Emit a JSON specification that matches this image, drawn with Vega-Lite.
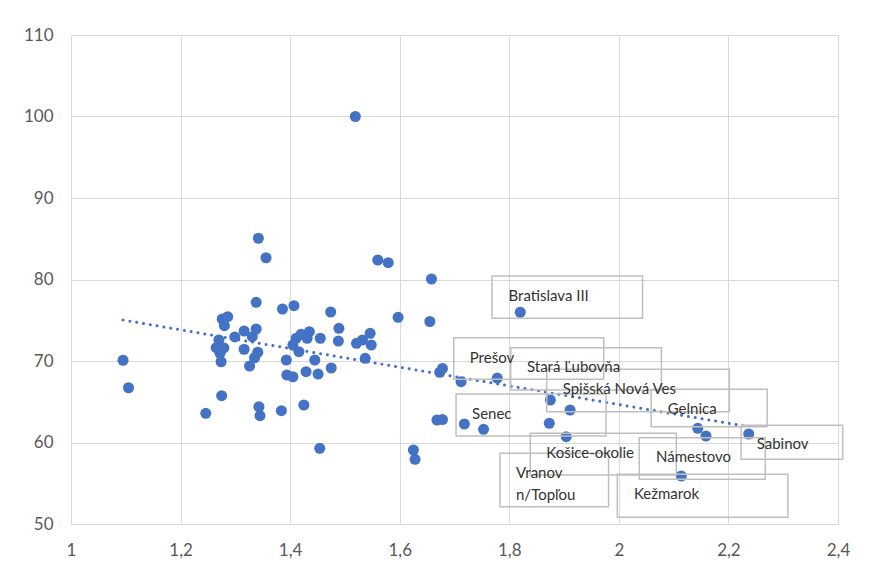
{
  "$schema": "https://vega.github.io/schema/vega-lite/v6.json",
  "width": 767,
  "height": 489,
  "autosize": {"type": "none"},
  "padding": {"left": 71, "top": 35, "right": 31, "bottom": 46},
  "background": "white",
  "config": {"view": {"stroke": null}, "font": "Lato"},
  "datasets": {
    "points": [
      {"x": 1.095, "y": 70.09}, {"x": 1.105, "y": 66.72}, {"x": 1.246, "y": 63.58}, {"x": 1.275, "y": 65.74},
      {"x": 1.342, "y": 85.06}, {"x": 1.356, "y": 82.67}, {"x": 1.338, "y": 77.2}, {"x": 1.386, "y": 76.38},
      {"x": 1.407, "y": 76.79}, {"x": 1.474, "y": 76.01}, {"x": 1.276, "y": 75.15}, {"x": 1.286, "y": 75.44},
      {"x": 1.28, "y": 74.33}, {"x": 1.489, "y": 74.01}, {"x": 1.488, "y": 72.45}, {"x": 1.338, "y": 73.93},
      {"x": 1.316, "y": 73.68}, {"x": 1.331, "y": 72.98}, {"x": 1.299, "y": 72.95}, {"x": 1.27, "y": 72.58},
      {"x": 1.265, "y": 71.63}, {"x": 1.279, "y": 71.6}, {"x": 1.272, "y": 70.94}, {"x": 1.316, "y": 71.44},
      {"x": 1.341, "y": 71.07}, {"x": 1.335, "y": 70.4}, {"x": 1.274, "y": 69.91}, {"x": 1.326, "y": 69.39},
      {"x": 1.393, "y": 70.12}, {"x": 1.405, "y": 71.96}, {"x": 1.411, "y": 72.79}, {"x": 1.42, "y": 73.28},
      {"x": 1.435, "y": 73.6}, {"x": 1.431, "y": 72.79}, {"x": 1.455, "y": 72.79}, {"x": 1.416, "y": 71.14},
      {"x": 1.445, "y": 70.12}, {"x": 1.394, "y": 68.28}, {"x": 1.405, "y": 68.07}, {"x": 1.429, "y": 68.69},
      {"x": 1.451, "y": 68.4}, {"x": 1.475, "y": 69.14}, {"x": 1.425, "y": 64.6}, {"x": 1.384, "y": 63.9},
      {"x": 1.343, "y": 64.39}, {"x": 1.345, "y": 63.29}, {"x": 1.454, "y": 59.29}, {"x": 1.519, "y": 100.0},
      {"x": 1.56, "y": 82.39}, {"x": 1.579, "y": 82.06}, {"x": 1.658, "y": 80.06}, {"x": 1.597, "y": 75.36},
      {"x": 1.655, "y": 74.85}, {"x": 1.546, "y": 73.4}, {"x": 1.521, "y": 72.17}, {"x": 1.532, "y": 72.58},
      {"x": 1.548, "y": 71.96}, {"x": 1.537, "y": 70.33}, {"x": 1.678, "y": 69.08}, {"x": 1.673, "y": 68.61},
      {"x": 1.712, "y": 67.46}, {"x": 1.778, "y": 67.91, "label": "Prešov"}, {"x": 1.668, "y": 62.76},
      {"x": 1.678, "y": 62.82}, {"x": 1.718, "y": 62.27, "label": "Senec"}, {"x": 1.753, "y": 61.62},
      {"x": 1.625, "y": 59.08}, {"x": 1.628, "y": 57.94}, {"x": 1.82, "y": 75.98, "label": "Bratislava III"},
      {"x": 1.875, "y": 65.21, "label": "Stará Ľubovňa"}, {"x": 1.911, "y": 63.99, "label": "Spišská Nová Ves"},
      {"x": 1.873, "y": 62.36, "label": "Vranov n/Topľou"}, {"x": 1.904, "y": 60.71, "label": "Košice-okolie"},
      {"x": 2.144, "y": 61.74, "label": "Gelnica"}, {"x": 2.159, "y": 60.8, "label": "Námestovo"},
      {"x": 2.237, "y": 61.04, "label": "Sabinov"}, {"x": 2.114, "y": 55.89, "label": "Kežmarok"}
    ],
    "trend": [{"x": 1.095, "y": 75.03}, {"x": 2.237, "y": 61.94}]
  },
  "encoding": {
    "x": {
      "field": "x", "type": "quantitative",
      "scale": {"domain": [1, 2.4], "nice": false, "zero": false},
      "axis": {
        "title": null, "values": [1, 1.2, 1.4, 1.6, 1.8, 2, 2.2, 2.4],
        "labelExpr": "replace(format(datum.value, '.1~f'), '.', ',')",
        "grid": true, "gridColor": "#d9d9d9", "gridWidth": 1,
        "domainColor": "#d9d9d9", "domainWidth": 1,
        "ticks": false, "tickSize": 0,
        "labelFontSize": 17, "labelColor": "#595959", "labelFont": "Lato",
        "labelPadding": 18, "labelFlush": false, "labelOverlap": false
      }
    },
    "y": {
      "field": "y", "type": "quantitative",
      "scale": {"domain": [50, 110], "nice": false, "zero": false},
      "axis": {
        "title": null, "values": [50, 60, 70, 80, 90, 100, 110],
        "grid": true, "gridColor": "#d9d9d9", "gridWidth": 1,
        "domain": false, "ticks": false, "tickSize": 0,
        "labelFontSize": 17, "labelColor": "#595959", "labelFont": "Lato",
        "labelPadding": 18, "labelFlush": false, "labelOverlap": false
      }
    }
  },
  "layer": [
    {
      "data": {"name": "points"},
      "mark": {"type": "circle", "size": 122, "color": "#4472C4", "opacity": 1}
    },
    {
      "data": {"name": "trend"},
      "mark": {"type": "line", "color": "#4472C4", "strokeWidth": 3, "strokeDash": [0.01, 6.9], "strokeCap": "round"}
    },
    {
      "data": {"name": "points"},
      "transform": [{"filter": "isValid(datum.label)"}],
      "mark": {"type": "point", "filled": false, "size": 4, "color": "#bfbfbf", "strokeWidth": 1.5, "opacity": 1},
      "encoding": {
        "shape": {
          "field": "label", "type": "nominal", "legend": null,
          "scale": {
            "domain": ["Bratislava III", "Prešov", "Stará Ľubovňa", "Spišská Nová Ves", "Gelnica", "Senec", "Sabinov", "Košice-okolie", "Námestovo", "Vranov n/Topľou", "Kežmarok"],
            "range": [
              "M-28.3,-36.3H122.3V6H-28.3Z",
              "M-43.5,-40.3H106.5V1.3H-43.5Z",
              "M-39.7,-52.3H111V-10H-39.7Z",
              "M-23.4,-40.7H159.3V1.7H-23.4Z",
              "M-46.6,-39H69.4V-1.6H-46.6Z",
              "M-8.3,-30H141.7V12H-8.3Z",
              "M-7.6,-8.7H94V25.3H-7.6Z",
              "M-36,-3.4H110V38.3H-36Z",
              "M-66.7,1.7H59.3V43.3H-66.7Z",
              "M-49.3,30H59.3V83.4H-49.3Z",
              "M-64,-1.7H106.6V41.3H-64Z"
            ]
          }
        }
      }
    },
    {
      "data": {"name": "points"},
      "transform": [{"filter": "datum.label == 'Bratislava III'"}],
      "mark": {"type": "text", "align": "left", "baseline": "middle", "dx": -11.7, "dy": -16.6, "fontSize": 15, "color": "#333333"},
      "encoding": {"text": {"field": "label"}}
    },
    {
      "data": {"name": "points"},
      "transform": [{"filter": "datum.label == 'Prešov'"}],
      "mark": {"type": "text", "align": "left", "baseline": "middle", "dx": -27.5, "dy": -19.7, "fontSize": 15, "color": "#333333"},
      "encoding": {"text": {"field": "label"}}
    },
    {
      "data": {"name": "points"},
      "transform": [{"filter": "datum.label == 'Stará Ľubovňa'"}],
      "mark": {"type": "text", "align": "left", "baseline": "middle", "dx": -23.4, "dy": -32.7, "fontSize": 15, "color": "#333333"},
      "encoding": {"text": {"field": "label"}}
    },
    {
      "data": {"name": "points"},
      "transform": [{"filter": "datum.label == 'Spišská Nová Ves'"}],
      "mark": {"type": "text", "align": "left", "baseline": "middle", "dx": -7.4, "dy": -20.7, "fontSize": 15, "color": "#333333"},
      "encoding": {"text": {"field": "label"}}
    },
    {
      "data": {"name": "points"},
      "transform": [{"filter": "datum.label == 'Gelnica'"}],
      "mark": {"type": "text", "align": "left", "baseline": "middle", "dx": -30, "dy": -19, "fontSize": 15, "color": "#333333"},
      "encoding": {"text": {"field": "label"}}
    },
    {
      "data": {"name": "points"},
      "transform": [{"filter": "datum.label == 'Senec'"}],
      "mark": {"type": "text", "align": "left", "baseline": "middle", "dx": 7.7, "dy": -10, "fontSize": 15, "color": "#333333"},
      "encoding": {"text": {"field": "label"}}
    },
    {
      "data": {"name": "points"},
      "transform": [{"filter": "datum.label == 'Sabinov'"}],
      "mark": {"type": "text", "align": "left", "baseline": "middle", "dx": 8, "dy": 10.3, "fontSize": 15, "color": "#333333"},
      "encoding": {"text": {"field": "label"}}
    },
    {
      "data": {"name": "points"},
      "transform": [{"filter": "datum.label == 'Košice-okolie'"}],
      "mark": {"type": "text", "align": "left", "baseline": "middle", "dx": -20, "dy": 16.6, "fontSize": 15, "color": "#333333"},
      "encoding": {"text": {"field": "label"}}
    },
    {
      "data": {"name": "points"},
      "transform": [{"filter": "datum.label == 'Námestovo'"}],
      "mark": {"type": "text", "align": "left", "baseline": "middle", "dx": -50, "dy": 20.7, "fontSize": 15, "color": "#333333"},
      "encoding": {"text": {"field": "label"}}
    },
    {
      "data": {"name": "points"},
      "transform": [{"filter": "datum.label == 'Vranov n/Topľou'"}],
      "mark": {"type": "text", "align": "left", "baseline": "top", "lineBreak": " ", "lineHeight": 22, "dx": -33.3, "dy": 43, "fontSize": 15, "color": "#333333"},
      "encoding": {"text": {"field": "label"}}
    },
    {
      "data": {"name": "points"},
      "transform": [{"filter": "datum.label == 'Kežmarok'"}],
      "mark": {"type": "text", "align": "left", "baseline": "middle", "dx": -47.4, "dy": 18.3, "fontSize": 15, "color": "#333333"},
      "encoding": {"text": {"field": "label"}}
    }
  ]
}
